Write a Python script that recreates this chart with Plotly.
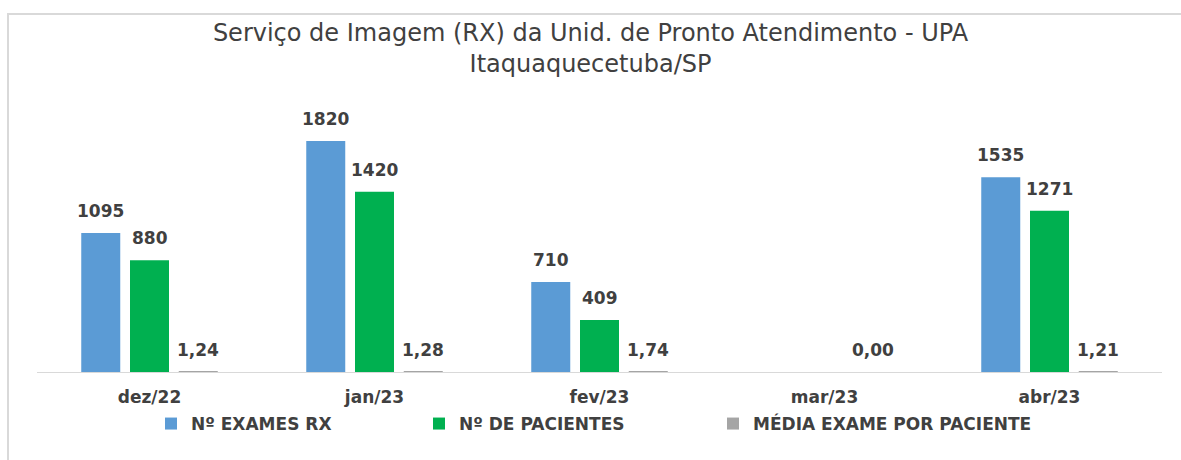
import plotly.graph_objects as go

months = ["dez/22", "jan/23", "fev/23", "mar/23", "abr/23"]
exames = [1095, 1820, 710, None, 1535]
pacientes = [880, 1420, 409, None, 1271]
media = [1.24, 1.28, 1.74, 0.00, 1.21]

series = [
    ("Nº EXAMES RX", exames, "#5B9BD5", lambda v: f"{v:.0f}"),
    ("Nº DE PACIENTES", pacientes, "#00B050", lambda v: f"{v:.0f}"),
    ("MÉDIA EXAME POR PACIENTE", media, "#A5A5A5", lambda v: f"{v:.2f}".replace(".", ",")),
]

W, H = 1181, 460
ml, mr, mt, mb = 37, 19, 100, 88
bargap = 0.35
ymax = 2143
pw = W - ml - mr
ph = H - mt - mb

legend_square_px = [165, 433, 727]
legend_names = ["legend", "legend2", "legend3"]

fig = go.Figure()
annotations = []
slot = (1 - bargap) / 3
for j, (name, vals, color, fmt) in enumerate(series):
    fig.add_trace(go.Bar(
        x=list(range(len(months))), y=vals, name=name,
        marker=dict(color=color, line=dict(width=0)),
        legend=legend_names[j],
    ))
    for i, v in enumerate(vals):
        if v is None:
            continue
        annotations.append(dict(
            x=i + (j - 1) * slot, y=v, xref="x", yref="y",
            text=f"<b>{fmt(v)}</b>", showarrow=False,
            yshift=22, font=dict(family="DejaVu Sans", size=17, color="#404040"),
        ))

# chart frame
fig.add_shape(type="rect", xref="paper", yref="paper",
              x0=(8 - ml) / pw, x1=(W + 10 - ml) / pw,
              y0=-(H + 10 - (H - mb)) / ph, y1=1 + (mt - 14) / ph,
              line=dict(color="#D9D9D9", width=2), fillcolor="rgba(0,0,0,0)", layer="below")

legend_common = dict(orientation="h", yanchor="middle", y=-52 / ph, xanchor="left",
                     font=dict(family="DejaVu Sans", size=17, color="#404040", weight="bold"),
                     itemwidth=30, bgcolor="rgba(0,0,0,0)", borderwidth=0)
legends = {}
for name, sq in zip(legend_names, legend_square_px):
    legends[name] = dict(legend_common, x=(sq - 14 - ml) / pw)

fig.update_layout(
    width=W, height=H,
    margin=dict(l=ml, r=mr, t=mt, b=mb),
    paper_bgcolor="white", plot_bgcolor="white",
    barmode="group", bargap=bargap, bargroupgap=0.2,
    title=dict(text="Serviço de Imagem (RX) da Unid. de Pronto Atendimento - UPA<br>Itaquaquecetuba/SP",
               x=0.5, xanchor="center", y=1 - 41 / H, yanchor="middle",
               font=dict(family="DejaVu Sans", size=24, color="#404040")),
    xaxis=dict(tickmode="array", tickvals=list(range(len(months))),
               ticktext=[f"<b>{m}</b>" for m in months],
               range=[-0.5, len(months) - 0.5],
               showline=True, linecolor="#D9D9D9", linewidth=1,
               showgrid=False, ticks="", zeroline=False, ticklabelstandoff=10,
               tickfont=dict(family="DejaVu Sans", size=17, color="#404040")),
    yaxis=dict(range=[0, ymax], visible=False, showgrid=False, zeroline=False),
    showlegend=True,
    annotations=annotations,
    **legends,
)

fig.write_html("out.html", config={"displayModeBar": False},
               post_script="document.body.style.margin='0';")
